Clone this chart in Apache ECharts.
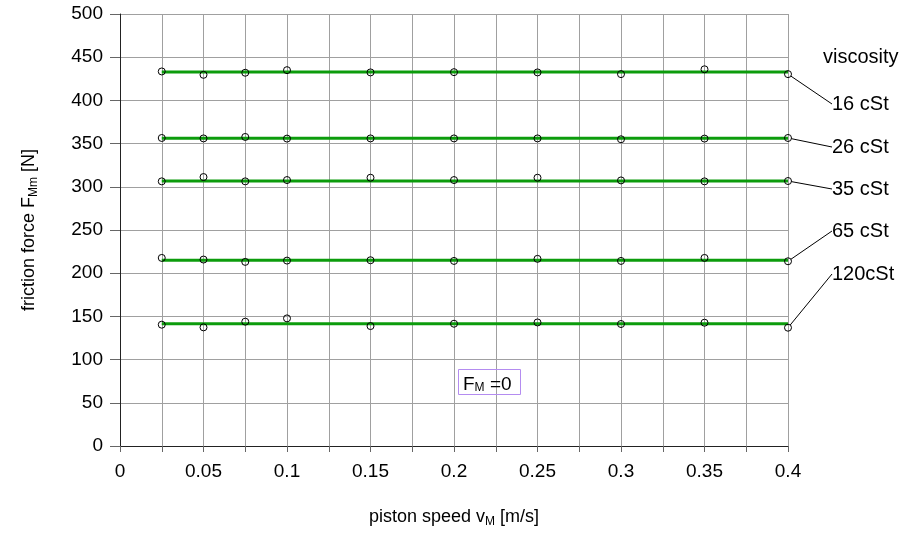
<!DOCTYPE html>
<html>
<head>
<meta charset="utf-8">
<title>friction force vs piston speed</title>
<script src="https://cdn.jsdelivr.net/npm/echarts@6/dist/echarts.min.js"></script>
<style>
  html, body { margin: 0; padding: 0; background: #fff; }
  #chart { width: 904px; height: 533px; }
</style>
</head>
<body>
<div id="chart"></div>
<script>
// measured points (piston speed in m/s, friction force in N)
var speeds = [0.025, 0.05, 0.075, 0.1, 0.15, 0.2, 0.25, 0.3, 0.35, 0.4];
var visc16  = [433.5, 429.6, 432, 435, 432.4, 432.7, 432.4, 430.4, 436, 430.4];
var visc26  = [356.5, 356, 357.7, 355.8, 356, 356, 356, 355, 355.8, 356.5];
var visc35  = [306.3, 311.3, 306.3, 307.8, 310.5, 307.8, 310.5, 307.4, 306.3, 306.7];
var visc65  = [217.7, 215.8, 213.1, 214.6, 215, 214.2, 216.6, 214.2, 217.7, 213.8];
var visc120 = [140.4, 137.3, 143.9, 147.7, 138.8, 141.5, 143, 141.2, 142.7, 136.9];

// fitted (mean) level of each viscosity
var fitLevels = [432.8, 356.1, 306.6, 215, 141.5];
var fitRange = [0.025, 0.4];
var names = ['16 cSt', '26 cSt', '35 cSt', '65 cSt', '120cSt'];

var xTicks = { min: 0, max: 0.4, step: 0.025 };
var yTicks = { min: 0, max: 500, step: 50 };

var FONT = "'Liberation Sans', Arial, sans-serif";
var allSeries = [visc16, visc26, visc35, visc65, visc120];
// where the viscosity labels sit on the right (pixel y)
var labelY = [104, 147, 189, 231, 274];

var myChart = echarts.init(document.getElementById('chart'));

var series = [];
// green fitted lines
fitLevels.forEach(function(v, i) {
  series.push({
    type: 'line',
    name: names[i] + ' fit',
    data: fitRange.map(function(x) { return [x, v]; }),
    symbol: 'none',
    lineStyle: { color: '#0c9c0c', width: 3 },
    z: 2,
    silent: true
  });
});
// open circles, leader line from the last point to the label
allSeries.forEach(function(vals, i) {
  series.push({
    type: 'scatter',
    name: names[i],
    symbol: 'circle',
    symbolSize: 7,
    itemStyle: { color: 'rgba(0,0,0,0)', borderColor: '#000', borderWidth: 1, opacity: 1 },
    z: 3,
    data: vals.map(function(v, k) {
      var item = { value: [speeds[k], v] };
      if (k === vals.length - 1) {
        item.label = { show: true };
      }
      return item;
    }),
    label: {
      show: false,
      formatter: '{a}',
      color: '#000',
      fontFamily: FONT,
      fontSize: 20,
      padding: [0, 0, 0, 5]
    },
    labelLine: { show: true, lineStyle: { color: '#000', width: 1, opacity: 1 } },
    labelLayout: function() {
      return { x: 827, y: labelY[i], align: 'left', verticalAlign: 'middle' };
    }
  });
});

var option = {
  animation: false,
  backgroundColor: '#fff',
  grid: { left: 120, right: 116, top: 14, bottom: 87, containLabel: false },
  title: {
    text: '{f|F}{sub|M}{f| =0}',
    left: 458,
    top: 372,
    padding: [3, 9, 1, 5],
    borderColor: '#b48cf0',
    borderWidth: 1,
    textStyle: {
      fontFamily: FONT,
      fontSize: 19,
      fontWeight: 'normal',
      color: '#000',
      rich: {
        f: { fontSize: 19, lineHeight: 19, verticalAlign: 'top', fontWeight: 'normal', color: '#000', fontFamily: FONT },
        sub: { fontSize: 12, lineHeight: 12, verticalAlign: 'bottom', padding: [10, 0, 0, 0], fontWeight: 'normal', color: '#000', fontFamily: FONT }
      }
    }
  },
  graphic: [{
    type: 'text',
    left: 823,
    top: 47,
    style: { text: 'viscosity', fontFamily: FONT, fontSize: 20, fill: '#000' }
  }],
  xAxis: {
    type: 'value',
    min: xTicks.min,
    max: xTicks.max,
    interval: xTicks.step,
    name: 'piston speed v{sub|M} [m/s]',
    nameLocation: 'middle',
    nameGap: 60,
    nameTextStyle: {
      fontFamily: FONT, fontSize: 18, color: '#000', lineHeight: 22,
      rich: { sub: { fontSize: 12, lineHeight: 12, padding: [10, 0, 0, 0], fontFamily: FONT, color: '#000' } }
    },
    axisLine: { lineStyle: { color: '#222', width: 1 } },
    axisTick: { show: true, length: 6, lineStyle: { color: '#666' } },
    axisLabel: {
      margin: 16,
      fontFamily: FONT, fontSize: 19, color: '#000',
      formatter: function(v) {
        var k = Math.round(v * 1000);
        return k % 50 === 0 ? String(k / 1000) : '';
      }
    },
    splitLine: { show: true, lineStyle: { color: '#a0a0a0', width: 1 } }
  },
  yAxis: {
    type: 'value',
    min: yTicks.min,
    max: yTicks.max,
    interval: yTicks.step,
    name: 'friction force F{sub|Mm} [N]',
    nameLocation: 'middle',
    nameGap: 80,
    nameTextStyle: {
      fontFamily: FONT, fontSize: 18, color: '#000', lineHeight: 22,
      rich: { sub: { fontSize: 12, lineHeight: 12, padding: [10, 0, 0, 0], fontFamily: FONT, color: '#000' } }
    },
    axisLine: { show: true, lineStyle: { color: '#222', width: 1 } },
    axisTick: { show: true, length: 10, lineStyle: { color: '#666' } },
    axisLabel: { margin: 17, fontFamily: FONT, fontSize: 19, color: '#000' },
    splitLine: { show: true, lineStyle: { color: '#a0a0a0', width: 1 } }
  },
  series: series
};

myChart.setOption(option);
</script>
</body>
</html>
